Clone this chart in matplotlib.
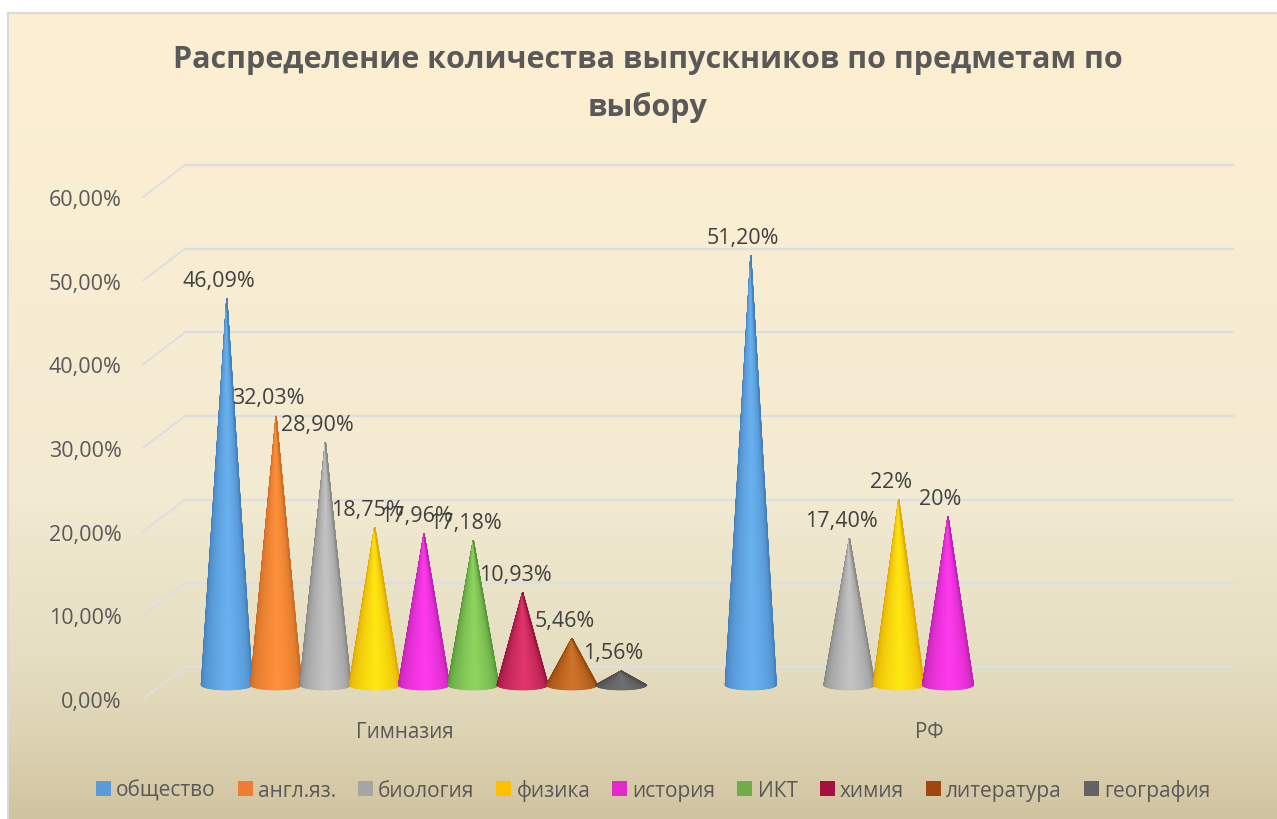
import numpy as np
import matplotlib
matplotlib.use('Agg')
import matplotlib.pyplot as plt
from matplotlib.colors import LinearSegmentedColormap
from matplotlib.patches import ConnectionPatch, Patch

plt.rcParams['font.family'] = ['Open Sans', 'DejaVu Sans']

title = 'Распределение количества выпускников по предметам по\nвыбору'
categories = ['Гимназия', 'РФ']
subjects = ['общество', 'англ.яз.', 'биология', 'физика', 'история',
            'ИКТ', 'химия', 'литература', 'география']
gymnasium = [46.09, 32.03, 28.90, 18.75, 17.96, 17.18, 10.93, 5.46, 1.56]
russia = [51.20, None, 17.40, 22, 20, None, None, None, None]
gymnasium_labels = ['46,09%', '32,03%', '28,90%', '18,75%', '17,96%',
                    '17,18%', '10,93%', '5,46%', '1,56%']
russia_labels = ['51,20%', None, '17,40%', '22%', '20%', None, None, None, None]
y_ticks = [0, 10, 20, 30, 40, 50, 60]
y_tick_labels = ['0,00%', '10,00%', '20,00%', '30,00%', '40,00%', '50,00%', '60,00%']

legend_colors = ['#5B9BD5', '#ED7D31', '#A5A5A5', '#FFC000', '#E02BC8',
                 '#70AD47', '#A5103F', '#9E480E', '#636363']
cone_edge = ['#3D78B0', '#C4651F', '#7E7E7E', '#DD9C00', '#B41EA6',
             '#4C8A30', '#8A0C36', '#8C4008', '#474747']
cone_mid = ['#6AB1F1', '#FF913C', '#C4C4C4', '#FFE812', '#FF3AEE',
            '#8FD660', '#E2366C', '#D0742A', '#707070']

W, H = 1277, 820
fig = plt.figure(figsize=(W / 100, H / 100), dpi=100, facecolor='white')


def rect(left, top, right, bottom):
    # pixel box (from top left) to figure fractions
    return [left / W, 1 - bottom / H, (right - left) / W, (bottom - top) / H]


# background panel
bg = fig.add_axes(rect(8, 14, W + 2, H + 2))
bg_cmap = LinearSegmentedColormap.from_list('bg', [
    (0.0, '#FDEFD1'), (0.35, '#F8EDD3'), (0.6, '#F2EAD1'),
    (0.8, '#E6DEC1'), (0.9, '#DDD3B3'), (1.0, '#D0C39F')])
bg.imshow(np.linspace(0, 1, 256).reshape(-1, 1), aspect='auto', cmap=bg_cmap)
bg.set_xticks([])
bg.set_yticks([])
for s in bg.spines.values():
    s.set_color('#D9D9D9')
    s.set_linewidth(1.5)

# three planes of the fake 3D box: back wall, cones, front edge
ax_back = fig.add_axes(rect(185, 166, 1233, 668))
ax_cone = fig.add_axes(rect(162, 183, 1210, 685))
ax_front = fig.add_axes(rect(143, 198, 1191, 700))
for ax in (ax_back, ax_cone, ax_front):
    ax.patch.set_alpha(0)
    for s in ax.spines.values():
        s.set_visible(False)

grid_color = '#DDDEE2'
ax_back.set_yticks(y_ticks)
ax_back.set_xticks([])
ax_back.tick_params(left=False, labelleft=False)
ax_back.grid(axis='y', color=grid_color, lw=1.7, clip_on=False)
ax_back.set_axisbelow(True)

ax_front.set_yticks(y_ticks, y_tick_labels)
ax_front.set_xticks([0, 1], categories)
ax_front.tick_params(axis='y', length=0, pad=15.5, labelsize=15.5, labelcolor='#595959')
ax_front.tick_params(axis='x', length=0, pad=16, labelsize=14.8, labelcolor='#595959')
ax_cone.set_xticks([])
ax_cone.set_yticks([])

# cones
series_step = 49.3 / 524
half_w = 25.5 / 524
base_h = 0.6
theta = np.linspace(np.pi, 0, 61)
rows = np.linspace(0, 1, 12)


def draw_cone(x, value, edge, mid):
    # smooth shaded mesh running from the base arc up to the tip
    X = x + (1 - rows)[:, None] * half_w * np.cos(theta)
    Y = (1 - rows)[:, None] * (-base_h * np.sin(theta) - 0.1) + rows[:, None] * value
    u = np.linspace(0, 1, len(theta))
    shade = np.clip(1 - np.abs(u - 0.52) * 2, 0, 1) ** 0.6
    C = np.tile(shade, (len(rows), 1))
    cmap = LinearSegmentedColormap.from_list('cone', [edge, mid])
    ax_cone.pcolormesh(X, Y, C, shading='gouraud', cmap=cmap, vmin=0, vmax=1, clip_on=False)


for cat, (vals, labs) in enumerate([(gymnasium, gymnasium_labels), (russia, russia_labels)]):
    for j, (v, lab) in enumerate(zip(vals, labs)):
        if v is None:
            continue
        x = cat + (j - 4) * series_step
        draw_cone(x, v, cone_edge[j], cone_mid[j])
        ax_cone.annotate(lab, (x, v), xytext=(-5.5, 13), textcoords='offset points',
                         ha='center', va='center', fontsize=15.5, color='#404040',
                         annotation_clip=False, zorder=5)

for ax in (ax_back, ax_cone, ax_front):
    ax.set_xlim(-0.5, 1.5)
    ax.set_ylim(0, 60)

for v in y_ticks:
    fig.add_artist(ConnectionPatch((-0.5, v), (-0.5, v), coordsA=ax_front.transData,
                                   coordsB=ax_back.transData, color=grid_color, lw=1.3))

fig.text(648 / W, 1 - 84 / H, title, ha='center', va='center', fontsize=22,
         fontweight='bold', color='#595959', linespacing=1.68)

handles = [Patch(facecolor=c, edgecolor='none') for c in legend_colors]
fig.legend(handles, subjects, ncol=9, loc='center', bbox_to_anchor=(653 / W, 1 - 791 / H),
           frameon=False, fontsize=15, labelcolor='#595959', handlelength=0.72,
           handleheight=0.72, handletextpad=0.25, columnspacing=1.05, borderpad=0)

fig.savefig('out.png', dpi=100, facecolor='white')
